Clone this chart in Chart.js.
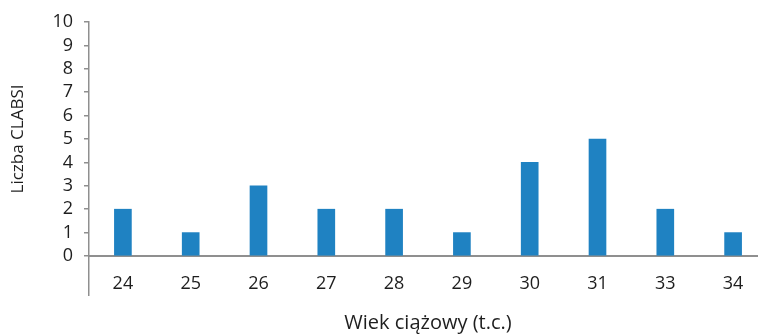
<!DOCTYPE html>
<html>
<head>
<meta charset="utf-8">
<script src="https://cdn.jsdelivr.net/npm/chart.js@4.4.0/dist/chart.umd.min.js"></script>
<style>
  html, body { margin: 0; padding: 0; background: #fff; overflow: hidden; }
  #wrap { width: 770px; height: 335px; }
</style>
</head>
<body>
<div id="wrap"><canvas id="chart" width="770" height="335"></canvas></div>
<script>
// dane z wykresu
const categories = ['24', '25', '26', '27', '28', '29', '30', '31', '33', '34'];
const clabsiCounts = [2, 1, 3, 2, 2, 1, 4, 5, 2, 1];
const yTicks = [0, 1, 2, 3, 4, 5, 6, 7, 8, 9, 10];

const axisGray = '#8f8f8f';
const textColor = '#1e1e1e';
const fontFamily = "'Open Sans', 'Liberation Sans', sans-serif";

const ctx = document.getElementById('chart').getContext('2d');
new Chart(ctx, {
  type: 'bar',
  data: {
    labels: categories,
    datasets: [{
      label: 'Liczba CLABSI',
      data: clabsiCounts,
      backgroundColor: '#1f82c2',
      barThickness: 17
    }]
  },
  options: {
    responsive: false,
    animation: false,
    layout: { padding: { top: 22, right: 3, bottom: 0, left: 0 } },
    plugins: {
      legend: { display: false },
      tooltip: { enabled: false }
    },
    scales: {
      x: {
        grid: {
          drawOnChartArea: false,
          tickLength: 40,
          // tylko pierwsza linia (przedłużenie osi Y w dół)
          color: c => c.index === 0 ? axisGray : 'rgba(0,0,0,0)',
          lineWidth: 1.5
        },
        border: { color: axisGray, width: 2 },
        ticks: {
          color: textColor,
          font: { family: fontFamily, size: 18 },
          padding: -23,
          maxRotation: 0,
          autoSkip: false
        },
        title: {
          display: true,
          text: 'Wiek ciążowy (t.c.)',
          color: textColor,
          font: { family: fontFamily, size: 20 },
          padding: { top: 11, bottom: 0 }
        },
        afterFit: s => { s.height = 79; }
      },
      y: {
        min: 0,
        max: 10,
        afterBuildTicks: s => { s.ticks = yTicks.map(v => ({ value: v })); },
        grid: {
          drawOnChartArea: false,
          tickLength: 5,
          color: axisGray,
          lineWidth: 1.5
        },
        border: { color: axisGray, width: 1.5 },
        ticks: {
          color: textColor,
          font: { family: fontFamily, size: 18 },
          padding: 11,
          autoSkip: false
        },
        title: {
          display: true,
          text: 'Liczba CLABSI',
          color: textColor,
          font: { family: fontFamily, size: 17 },
          padding: { top: 8, bottom: 4 }
        },
        afterFit: s => { s.width = 89; }
      }
    }
  }
});
</script>
</body>
</html>
